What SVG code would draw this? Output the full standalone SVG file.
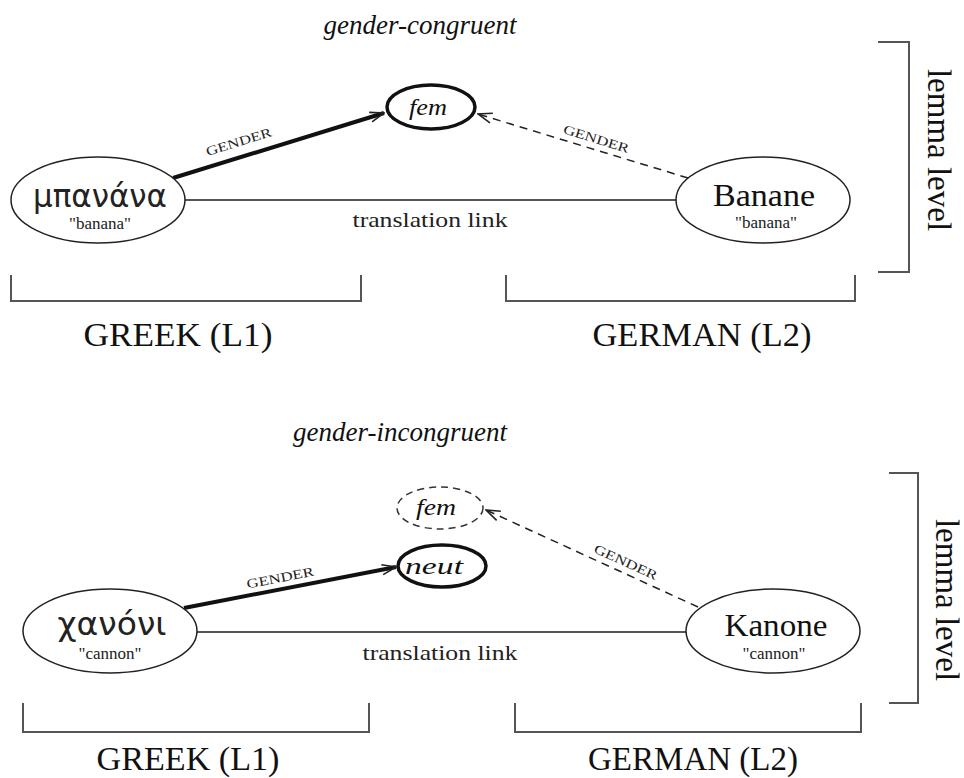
<svg xmlns="http://www.w3.org/2000/svg" width="964" height="778" viewBox="0 0 964 778">
<style>
.title{font-family:"Liberation Serif",serif;font-style:italic;font-size:27px;fill:#111}
.node{fill:#fff;stroke:#222;stroke-width:1.5}
.thick{fill:#fff;stroke:#111;stroke-width:3.5}
.dnode{fill:#fff;stroke:#333;stroke-width:1.5;stroke-dasharray:7,5}
.word{font-family:"Liberation Serif",serif;font-size:32px;fill:#111;text-anchor:middle}
.greek{font-family:"DejaVu Sans","Noto Sans",sans-serif;font-size:32px;fill:#222;text-anchor:middle}
.gloss{font-family:"Liberation Serif",serif;font-size:17px;fill:#222;text-anchor:middle}
.feat{font-family:"Liberation Serif",serif;font-style:italic;font-size:23px;fill:#111;text-anchor:middle}
.lbl{font-family:"Liberation Serif",serif;font-size:13px;fill:#222;text-anchor:middle}
.link{font-family:"Liberation Serif",serif;font-size:21px;fill:#222;text-anchor:middle}
.lang{font-family:"Liberation Serif",serif;font-size:33px;fill:#111;text-anchor:middle}
.lemma{font-family:"Liberation Serif",serif;font-size:33px;fill:#111;text-anchor:middle}
.bracket{fill:none;stroke:#555;stroke-width:2}
.trans{stroke:#555;stroke-width:2}
.gsolid{stroke:#111;stroke-width:4}
.gdash{stroke:#222;stroke-width:1.5;stroke-dasharray:8,6}
</style>
<defs>
<marker id="arr" viewBox="0 0 16 12" refX="15" refY="6" markerWidth="16" markerHeight="12" markerUnits="userSpaceOnUse" orient="auto">
<path d="M1,1 L15,6 L1,11" fill="none" stroke="#222" stroke-width="1.6"/>
</marker>
</defs>

<text class="title" x="420" y="34" text-anchor="middle">gender-congruent</text>
<text class="title" x="400" y="441" text-anchor="middle">gender-incongruent</text>

<g id="connectors">
<line class="trans" x1="185" y1="200" x2="676" y2="200"/>
<line class="gsolid" x1="173" y1="178" x2="384" y2="113" marker-end="url(#arr)"/>
<line class="gdash" x1="688" y1="178" x2="478" y2="114" marker-end="url(#arr)"/>
<line class="trans" x1="197" y1="632" x2="686" y2="632"/>
<line class="gsolid" x1="184" y1="608" x2="396" y2="567" marker-end="url(#arr)"/>
<line class="gdash" x1="698" y1="607" x2="486" y2="510" marker-end="url(#arr)"/>
<text class="lbl" transform="translate(240,146) rotate(-17)" textLength="68" lengthAdjust="spacingAndGlyphs">GENDER</text>
<text class="lbl" transform="translate(595,143) rotate(17)" textLength="68" lengthAdjust="spacingAndGlyphs">GENDER</text>
<text class="lbl" transform="translate(281,582) rotate(-11)" textLength="68" lengthAdjust="spacingAndGlyphs">GENDER</text>
<text class="lbl" transform="translate(624,566) rotate(24.5)" textLength="68" lengthAdjust="spacingAndGlyphs">GENDER</text>
<text class="link" x="430" y="227" textLength="155" lengthAdjust="spacingAndGlyphs">translation link</text>
<text class="link" x="440" y="660" textLength="155" lengthAdjust="spacingAndGlyphs">translation link</text>
</g>

<g id="fem-top">
<ellipse class="thick" cx="431" cy="107" rx="44" ry="22"/>
<text class="feat" x="428" y="115" textLength="38" lengthAdjust="spacingAndGlyphs">fem</text>
</g>
<g id="mpanana">
<ellipse class="node" cx="98" cy="200" rx="87" ry="43"/>
<text class="greek" x="100" y="207" textLength="134" lengthAdjust="spacingAndGlyphs">μπανάνα</text>
<text class="gloss" x="100" y="229">"banana"</text>
</g>
<g id="banane">
<ellipse class="node" cx="763" cy="200" rx="87" ry="43"/>
<text class="word" x="764" y="206" textLength="102" lengthAdjust="spacingAndGlyphs">Banane</text>
<text class="gloss" x="766" y="228">"banana"</text>
</g>

<g id="fem-bottom">
<ellipse class="dnode" cx="440" cy="508" rx="43" ry="21"/>
<text class="feat" x="436" y="515" textLength="40" lengthAdjust="spacingAndGlyphs">fem</text>
</g>
<g id="neut">
<ellipse class="thick" cx="442" cy="566" rx="44" ry="21"/>
<text class="feat" x="434" y="574" textLength="58" lengthAdjust="spacingAndGlyphs">neut</text>
</g>
<g id="kanoni">
<ellipse class="node" cx="110" cy="631" rx="87" ry="42"/>
<text class="greek" x="112" y="635" textLength="109" lengthAdjust="spacingAndGlyphs">χανόνι</text>
<text class="gloss" x="110" y="659">"cannon"</text>
</g>
<g id="kanone">
<ellipse class="node" cx="773" cy="631" rx="87" ry="42"/>
<text class="word" x="776" y="636" textLength="103" lengthAdjust="spacingAndGlyphs">Kanone</text>
<text class="gloss" x="774" y="659">"cannon"</text>
</g>

<g id="brackets-top">
<path class="bracket" d="M11,275 V301 H361 V275"/>
<path class="bracket" d="M506,275 V301 H855 V275"/>
<path class="bracket" d="M878,42 H909 V272 H878"/>
<text class="lang" x="178" y="346" textLength="189" lengthAdjust="spacingAndGlyphs">GREEK (L1)</text>
<text class="lang" x="702" y="346" textLength="219" lengthAdjust="spacingAndGlyphs">GERMAN (L2)</text>
<text class="lemma" transform="translate(928,150) rotate(90)">lemma level</text>
</g>
<g id="brackets-bottom">
<path class="bracket" d="M23,703 V732 H369 V703"/>
<path class="bracket" d="M515,703 V732 H861 V703"/>
<path class="bracket" d="M889,473 H918 V703 H889"/>
<text class="lang" x="188" y="770" textLength="183" lengthAdjust="spacingAndGlyphs">GREEK (L1)</text>
<text class="lang" x="693" y="770" textLength="210" lengthAdjust="spacingAndGlyphs">GERMAN (L2)</text>
<text class="lemma" transform="translate(936,600) rotate(90)">lemma level</text>
</g>
</svg>
